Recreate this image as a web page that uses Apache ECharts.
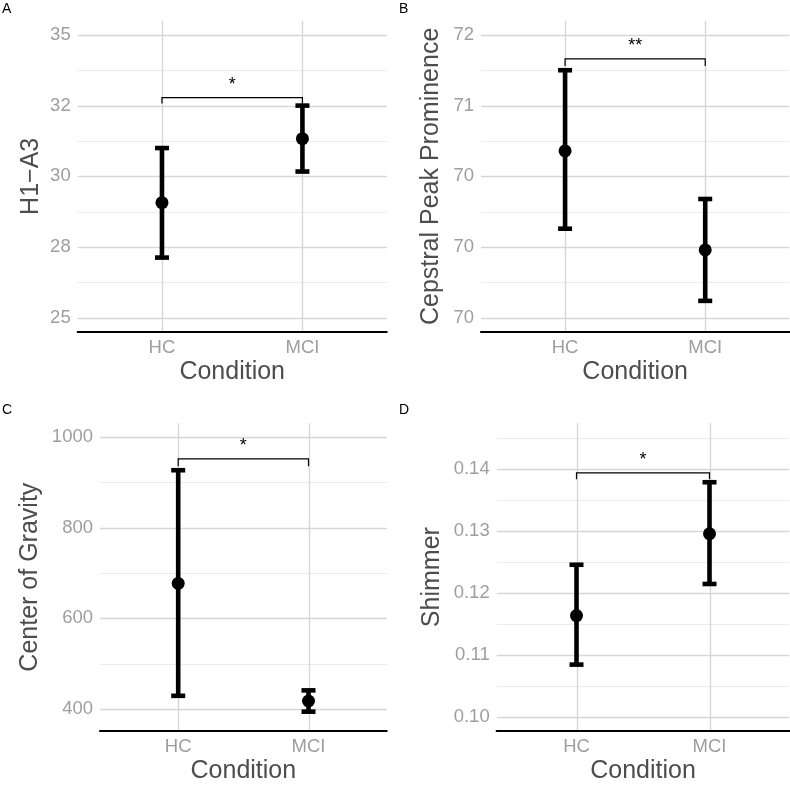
<!DOCTYPE html>
<html>
<head>
<meta charset="utf-8">
<script src="https://cdn.jsdelivr.net/npm/echarts@6/dist/echarts.min.js"></script>
<style>
html,body{margin:0;padding:0;background:#fff;}
#chart{width:790px;height:785px;}
</style>
</head>
<body>
<div id="chart"></div>
<script>
// ---------------- data ----------------
const categories = ['HC', 'MCI'];
const categoryPos = [1, 2];
const panelLetters = ['A', 'B', 'C', 'D'];
const yTitles = ['H1\u2212A3', 'Cepstral Peak Prominence', 'Center of Gravity', 'Shimmer'];
const xTitle = 'Condition';

// Panel A: H1-A3
const meanA = [29.07, 31.33];
const lowA = [27.13, 30.17];
const highA = [31.00, 32.50];
const tickValsA = [25, 27.5, 30, 32.5, 35];
const tickLabA = ['25', '28', '30', '32', '35'];
const minorA = [26.25, 28.75, 31.25, 33.75];

// Panel B: Cepstral Peak Prominence
const meanB = [70.68, 69.98];
const lowB = [70.13, 69.62];
const highB = [71.25, 70.34];
const tickValsB = [69.5, 70, 70.5, 71, 71.5];
const tickLabB = ['70', '70', '70', '71', '72'];
const minorB = [69.75, 70.25, 70.75, 71.25];

// Panel C: Center of Gravity
const meanC = [677, 417.5];
const lowC = [429, 394];
const highC = [927, 441];
const tickValsC = [400, 600, 800, 1000];
const tickLabC = ['400', '600', '800', '1000'];
const minorC = [500, 700, 900];

// Panel D: Shimmer
const meanD = [0.1163, 0.1295];
const lowD = [0.1084, 0.1214];
const highD = [0.1245, 0.1378];
const tickValsD = [0.10, 0.11, 0.12, 0.13, 0.14];
const tickLabD = ['0.10', '0.11', '0.12', '0.13', '0.14'];
const minorD = [0.105, 0.115, 0.125, 0.135, 0.145];

// Significance brackets
const sigLabels = ['*', '**', '*', '*'];
const bracketY = [32.78, 71.33, 952, 0.1393];
const tipY = [32.57, 71.28, 936, 0.1383];

// ---------------- layout / styling ----------------
const layouts = [
  {left: 77.7, top: 20.7, width: 309, height: 311.3, ymin: 24.5, ymax: 35.5, nameGap: 34.5},
  {left: 481, top: 20.7, width: 308.3, height: 311.3, ymin: 69.4, ymax: 71.6, nameGap: 37},
  {left: 100, top: 423.3, width: 286.7, height: 311, ymin: 351.3, ymax: 1030.6, nameGap: 57},
  {left: 496.7, top: 423.3, width: 292.6, height: 312, ymin: 0.0977, ymax: 0.1473, nameGap: 52.5}
];
const letterPos = [[2, 2], [399, 2], [2, 403], [399, 403]];
const XMIN = 0.4, XMAX = 2.6;
const FONT = '"Liberation Sans", Arial, Helvetica, sans-serif';

const panelData = [
  {mean: meanA, low: lowA, high: highA, ticks: tickValsA, labels: tickLabA, minor: minorA},
  {mean: meanB, low: lowB, high: highB, ticks: tickValsB, labels: tickLabB, minor: minorB},
  {mean: meanC, low: lowC, high: highC, ticks: tickValsC, labels: tickLabC, minor: minorC},
  {mean: meanD, low: lowD, high: highD, ticks: tickValsD, labels: tickLabD, minor: minorD}
];

function labelFor(vals, labs) {
  return function (v) {
    for (let i = 0; i < vals.length; i++) {
      if (Math.abs(vals[i] - v) < 1e-9 * Math.max(1, Math.abs(vals[i]))) return labs[i];
    }
    return '';
  };
}

const grids = [], xAxes = [], yAxes = [], series = [], graphics = [];

panelData.forEach((p, k) => {
  const L = layouts[k];
  grids.push({left: L.left, top: L.top, width: L.width, height: L.height, containLabel: false});
  xAxes.push({
    type: 'value', gridIndex: k, min: XMIN, max: XMAX, z: 5,
    name: xTitle, nameLocation: 'middle', nameGap: 28,
    nameTextStyle: {fontFamily: FONT, fontSize: 25, color: '#4d4d4d'},
    axisLine: {show: true, onZero: false, lineStyle: {color: '#000', width: 2.2}},
    axisTick: {show: false},
    splitLine: {show: false},
    axisLabel: {
      customValues: categoryPos,
      formatter: labelFor(categoryPos, categories),
      fontFamily: FONT, fontSize: 18.5, color: '#9e9e9e', margin: 6.5
    }
  });
  yAxes.push({
    type: 'value', gridIndex: k, min: L.ymin, max: L.ymax,
    name: yTitles[k], nameLocation: 'middle', nameGap: L.nameGap,
    nameTextStyle: {fontFamily: FONT, fontSize: 25, color: '#4d4d4d'},
    axisLine: {show: false}, axisTick: {show: false}, splitLine: {show: false},
    axisLabel: {
      customValues: p.ticks,
      formatter: labelFor(p.ticks, p.labels),
      fontFamily: FONT, fontSize: 18.5, color: '#9e9e9e', margin: 7
    }
  });

  // grid lines: [kind, value] kind 0 major-h, 1 minor-h, 2 vertical
  const gl = [];
  p.minor.forEach(v => { if (v > L.ymin && v < L.ymax) gl.push([1, v]); });
  p.ticks.forEach(v => gl.push([0, v]));
  categoryPos.forEach(v => gl.push([2, v]));
  series.push({
    type: 'custom', xAxisIndex: k, yAxisIndex: k, z: 1, silent: true,
    data: gl.map(g => g[0] === 2 ? [g[1], L.ymin] : [XMIN, g[1]]),
    renderItem: (params, api) => {
      const g = gl[params.dataIndex];
      let a, b;
      if (g[0] === 2) {
        a = api.coord([g[1], L.ymax]); b = api.coord([g[1], L.ymin]);
        const x = Math.round(a[0]) + 0.5;
        return {type: 'line', shape: {x1: x, y1: a[1], x2: x, y2: b[1]},
          style: {stroke: '#d6d6d6', lineWidth: 1.4}};
      }
      a = api.coord([XMIN, g[1]]); b = api.coord([XMAX, g[1]]);
      const y = Math.round(a[1]) + 0.5;
      return {type: 'line', shape: {x1: a[0], y1: y, x2: b[0], y2: y},
        style: {stroke: g[0] === 0 ? '#d6d6d6' : '#ececec', lineWidth: g[0] === 0 ? 1.4 : 1}};
    }
  });

  // error bars
  series.push({
    type: 'custom', xAxisIndex: k, yAxisIndex: k, z: 3, silent: true,
    data: categoryPos.map((x, i) => [x, p.low[i], p.high[i]]),
    renderItem: (params, api) => {
      const x = api.value(0);
      const lo = api.coord([x, api.value(1)]);
      const hi = api.coord([x, api.value(2)]);
      const hw = 7;
      const st = {stroke: '#000', lineWidth: 4.6};
      return {type: 'group', children: [
        {type: 'line', shape: {x1: lo[0], y1: lo[1], x2: hi[0], y2: hi[1]}, style: st},
        {type: 'line', shape: {x1: hi[0] - hw, y1: hi[1], x2: hi[0] + hw, y2: hi[1]}, style: st},
        {type: 'line', shape: {x1: lo[0] - hw, y1: lo[1], x2: lo[0] + hw, y2: lo[1]}, style: st}
      ]};
    }
  });

  // means
  series.push({
    type: 'scatter', xAxisIndex: k, yAxisIndex: k, z: 4, silent: true,
    symbol: 'circle', symbolSize: 13,
    itemStyle: {color: '#000', opacity: 1},
    data: categoryPos.map((x, i) => [x, p.mean[i]])
  });

  // significance bracket
  series.push({
    type: 'custom', xAxisIndex: k, yAxisIndex: k, z: 4, silent: true,
    data: [[categoryPos[0], categoryPos[1], bracketY[k], tipY[k]]],
    renderItem: (params, api) => {
      const a0 = api.coord([api.value(0), api.value(3)]);
      const a1 = api.coord([api.value(0), api.value(2)]);
      const b1 = api.coord([api.value(1), api.value(2)]);
      const b0 = api.coord([api.value(1), api.value(3)]);
      const mid = (a1[0] + b1[0]) / 2;
      return {type: 'group', children: [
        {type: 'polyline', shape: {points: [a0, a1, b1, b0]},
          style: {stroke: '#000', lineWidth: 1.2, fill: null}},
        {type: 'text', x: mid, y: a1[1] - 13,
          style: {text: sigLabels[k], fontFamily: FONT, fontSize: 18, fill: '#000',
            align: 'center', verticalAlign: 'middle'}}
      ]};
    }
  });

  graphics.push({
    type: 'text', left: letterPos[k][0], top: letterPos[k][1],
    style: {text: panelLetters[k], fontFamily: FONT, fontSize: 14, fill: '#000'}
  });
});

const chart = echarts.init(document.getElementById('chart'), null, {renderer: 'canvas'});
chart.setOption({
  animation: false,
  backgroundColor: '#fff',
  grid: grids,
  xAxis: xAxes,
  yAxis: yAxes,
  series: series,
  graphic: graphics
});
</script>
</body>
</html>
